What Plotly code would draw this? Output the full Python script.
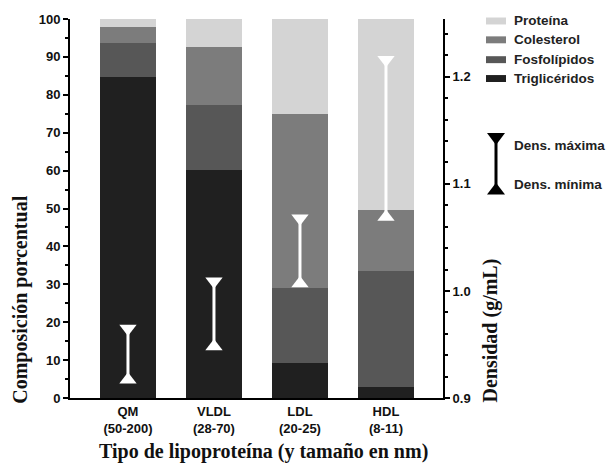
import plotly.graph_objects as go

# ---------------- data ----------------
categories = ["QM", "VLDL", "LDL", "HDL"]
sizes_nm = ["(50-200)", "(28-70)", "(20-25)", "(8-11)"]

trigliceridos = [84.8, 60.2, 9.2, 2.9]
fosfolipidos = [8.9, 17.0, 19.8, 30.6]
colesterol = [4.2, 15.4, 45.9, 16.2]
proteina = [2.1, 7.4, 25.1, 50.3]

dens_min = [0.917, 0.948, 1.007, 1.069]
dens_max = [0.965, 1.009, 1.068, 1.216]

left_ticks = [0, 10, 20, 30, 40, 50, 60, 70, 80, 90, 100]
right_ticks = [0.9, 1.0, 1.1, 1.2]

colors = {
    "Triglicéridos": "#202020",
    "Fosfolípidos": "#575757",
    "Colesterol": "#7c7c7c",
    "Proteína": "#d4d4d4",
}

# ---------------- layout geometry ----------------
W, H = 613, 464
L, R, T, B = 70, 443, 16, 398


def px2x(px):
    return (px - L) / (R - L)


def py2y(py):
    return (B - py) / (B - T)


SANS = "Liberation Sans, Arial, sans-serif"
SERIF = "Liberation Serif, Times New Roman, serif"

xs = list(range(len(categories)))
ticktext = [f"{c}<br>{s}" for c, s in zip(categories, sizes_nm)]

fig = go.Figure()

series = [
    ("Triglicéridos", trigliceridos),
    ("Fosfolípidos", fosfolipidos),
    ("Colesterol", colesterol),
    ("Proteína", proteina),
]
for name, vals in series:
    fig.add_trace(go.Bar(
        x=xs, y=vals, name=name, width=0.65,
        marker=dict(color=colors[name], line=dict(width=0)),
        showlegend=False,
    ))

for i in xs:
    fig.add_trace(go.Scatter(
        x=[i, i], y=[dens_min[i], dens_max[i]], yaxis="y2",
        mode="lines+markers",
        line=dict(color="white", width=3),
        marker=dict(symbol=["triangle-up", "triangle-down"], size=15,
                    color="white", line=dict(width=0)),
        showlegend=False, hoverinfo="skip",
    ))

shapes = []
annotations = []

# legend for composition
legend_items = [("Proteína", 18), ("Colesterol", 37), ("Fosfolípidos", 57), ("Triglicéridos", 76)]
for name, py in legend_items:
    shapes.append(dict(type="rect", xref="paper", yref="paper",
                       x0=px2x(486), x1=px2x(506), y0=py2y(py + 3.5), y1=py2y(py - 3.5),
                       fillcolor=colors[name], line=dict(width=0)))
    annotations.append(dict(xref="paper", yref="paper", x=px2x(512), y=py2y(py),
                            text=f"<b>{name}</b>", showarrow=False, xanchor="left",
                            yanchor="middle", font=dict(family=SANS, size=13.5, color="#222")))

# legend for density symbol
cx = 496
shapes.append(dict(type="line", xref="paper", yref="paper",
                   x0=px2x(cx), x1=px2x(cx), y0=py2y(134), y1=py2y(190),
                   line=dict(color="black", width=3)))
shapes.append(dict(type="path", xref="paper", yref="paper",
                   path=f"M {px2x(cx-9)} {py2y(131)} L {px2x(cx+9)} {py2y(131)} L {px2x(cx)} {py2y(143)} Z",
                   fillcolor="black", line=dict(width=0)))
shapes.append(dict(type="path", xref="paper", yref="paper",
                   path=f"M {px2x(cx-9)} {py2y(193)} L {px2x(cx+9)} {py2y(193)} L {px2x(cx)} {py2y(181)} Z",
                   fillcolor="black", line=dict(width=0)))
for txt, py in [("Dens. máxima", 144), ("Dens. mínima", 183)]:
    annotations.append(dict(xref="paper", yref="paper", x=px2x(512), y=py2y(py),
                            text=f"<b>{txt}</b>", showarrow=False, xanchor="left",
                            yanchor="middle", font=dict(family=SANS, size=13.5, color="#222")))

# axis titles
annotations.append(dict(xref="paper", yref="paper", x=px2x(21), y=py2y(299),
                        text="<b>Composición porcentual</b>", showarrow=False, textangle=-90,
                        xanchor="center", yanchor="middle",
                        font=dict(family=SERIF, size=20, color="#111")))
annotations.append(dict(xref="paper", yref="paper", x=px2x(491), y=py2y(330),
                        text="<b>Densidad (g/mL)</b>", showarrow=False, textangle=-90,
                        xanchor="center", yanchor="middle",
                        font=dict(family=SERIF, size=20, color="#111")))
annotations.append(dict(xref="paper", yref="paper", x=px2x(263), y=py2y(452),
                        text="<b>Tipo de lipoproteína (y tamaño en nm)</b>", showarrow=False,
                        xanchor="center", yanchor="middle",
                        font=dict(family=SERIF, size=20, color="#111")))

fig.update_layout(
    width=W, height=H,
    margin=dict(l=L, r=W - R, t=T, b=H - B, pad=0),
    paper_bgcolor="white", plot_bgcolor="white",
    barmode="stack", bargap=0,
    showlegend=False,
    shapes=shapes, annotations=annotations,
    xaxis=dict(
        range=[-0.674, 3.663], tickvals=xs, ticktext=ticktext,
        showline=True, linecolor="black", linewidth=2, ticks="",
        showgrid=False, zeroline=False,
        tickfont=dict(family=SANS, size=13, color="#111", weight="bold"),
    ),
    yaxis=dict(
        range=[0, 100], tickvals=left_ticks,
        showline=True, linecolor="black", linewidth=2,
        ticks="outside", ticklen=5, tickwidth=2, tickcolor="black",
        minor=dict(dtick=5, tick0=0, ticks="outside", ticklen=3, tickwidth=1.5, tickcolor="black"),
        showgrid=False, zeroline=False,
        tickfont=dict(family=SANS, size=13, color="#111", weight="bold"),
    ),
    yaxis2=dict(
        range=[0.9, 1.254], overlaying="y", side="right", tickvals=right_ticks,
        tickformat=".1f",
        showline=True, linecolor="black", linewidth=2,
        ticks="outside", ticklen=5, tickwidth=2, tickcolor="black",
        minor=dict(dtick=0.02, tick0=0.9, ticks="outside", ticklen=3, tickwidth=1.5, tickcolor="black"),
        showgrid=False, zeroline=False,
        tickfont=dict(family=SANS, size=13, color="#111", weight="bold"),
    ),
)

fig.write_html("out.html", config={"displayModeBar": False},
               post_script="document.body.style.margin='0';document.body.style.padding='0';")
